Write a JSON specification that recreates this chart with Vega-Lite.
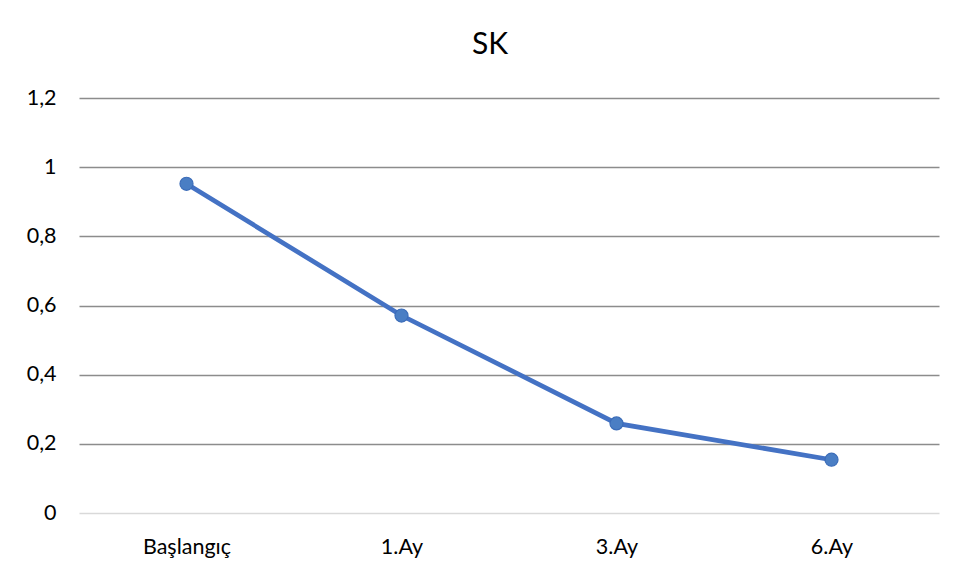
{
  "$schema": "https://vega.github.io/schema/vega-lite/v6.json",
  "autosize": "none",
  "width": 860,
  "height": 415,
  "padding": {"left": 79, "top": 98, "right": 25, "bottom": 66},
  "background": "white",
  "title": {"text": "SK", "fontSize": 30, "font": "Lato", "fontWeight": "normal", "color": "#000000", "offset": 27, "anchor": "middle", "dx": -19},
  "data": {"values": [
    {"Dönem": "Başlangıç", "SK": 0.952},
    {"Dönem": "1.Ay", "SK": 0.571},
    {"Dönem": "3.Ay", "SK": 0.259},
    {"Dönem": "6.Ay", "SK": 0.154}
  ]},
  "config": {
    "view": {"stroke": null},
    "font": "Lato"
  },
  "encoding": {
    "x": {"field": "Dönem", "type": "ordinal", "sort": null,
      "scale": {"type": "point", "padding": 0.5},
      "axis": {"title": null, "labelAngle": 0, "labelFontSize": 21.5, "labelColor": "#000000", "labelFont": "Lato", "ticks": false, "domain": false, "grid": false, "labelPadding": 23}},
    "y": {"field": "SK", "type": "quantitative",
      "scale": {"domain": [0, 1.2], "nice": false},
      "axis": {"title": null, "values": [0, 0.2, 0.4, 0.6, 0.8, 1, 1.2],
        "labelExpr": "replace(format(datum.value, ''), '.', ',')",
        "labelFontSize": 21.5, "labelColor": "#000000", "labelFont": "Lato", "ticks": false, "domain": false, "labelPadding": 23,
        "grid": true,
        "gridColor": {"condition": {"test": "datum.value === 0", "value": "#d9d9d9"}, "value": "#8c8c8c"},
        "gridWidth": 1.4}}
  },
  "layer": [
    {"mark": {"type": "line", "color": "#4472C4", "strokeWidth": 4.7}},
    {"mark": {"type": "point", "filled": true, "size": 170, "fill": "#4a7ec4", "stroke": "#3b6cb8", "strokeWidth": 1.2, "opacity": 1}}
  ]
}
